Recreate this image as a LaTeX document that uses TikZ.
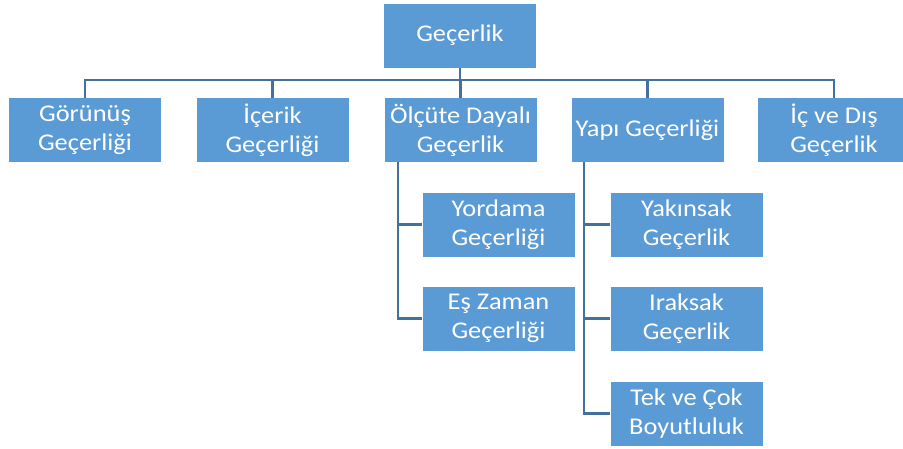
\documentclass[tikz,border=0pt]{standalone}
\usepackage{fontspec}
\setmainfont{Carlito}[FakeStretch=1.1]
\definecolor{boxblue}{RGB}{91,155,213}
\definecolor{linkblue}{RGB}{65,113,156}

\begin{document}
\begin{tikzpicture}[x=1pt, y=-1pt, box/.style={fill=boxblue, text=white, minimum width=152pt, minimum height=64pt, align=center, font=\fontsize{24}{29}\selectfont}, link/.style={draw=linkblue, line width=2.2pt},]
    \useasboundingbox (0,0) rectangle (903,448);
    \node[box] (top) at (460,35.5) {Geçerlik};
    \node[box] (face) at (85,130) {Görünüş\\Geçerliği};
    \node[box] (content) at (272.5,130) {İçerik\\Geçerliği};
    \node[box] (crit) at (460.5,130) {Ölçüte Dayalı\\Geçerlik};
    \node[box] (constr) at (647.5,130) {Yapı Geçerliği};
    \node[box] (inout) at (834,130) {İç ve Dış\\Geçerlik};
    \node[box] (pred) at (498.5,224.5) {Yordama\\Geçerliği};
    \node[box] (conc) at (498.5,318.5) {Eş Zaman\\Geçerliği};
    \node[box] (conv) at (686.5,224.5) {Yakınsak\\Geçerlik};
    \node[box] (disc) at (686.5,318.5) {Iraksak\\Geçerlik};
    \node[box] (dims) at (686.5,413.5) {Tek ve Çok\\Boyutluluk};
    \coordinate (bus) at (460,80);
    \draw[link] (top) -- (top |- bus);
    \draw[link] (face.north) |- (bus) -| (inout.north);
    \draw[link] (content.north) -- (content.north |- bus);
    \draw[link] (crit.north) -- (crit.north |- bus);
    \draw[link] (constr.north) -- (constr.north |- bus);
    \draw[link] ([xshift=14pt]crit.south west) |- (pred.west);
    \draw[link] ([xshift=14pt]crit.south west) |- (conc.west);
    \draw[link] ([xshift=13pt]constr.south west) |- (conv.west);
    \draw[link] ([xshift=13pt]constr.south west) |- (disc.west);
    \draw[link] ([xshift=13pt]constr.south west) |- (dims.west);
  \end{tikzpicture}
\end{document}
